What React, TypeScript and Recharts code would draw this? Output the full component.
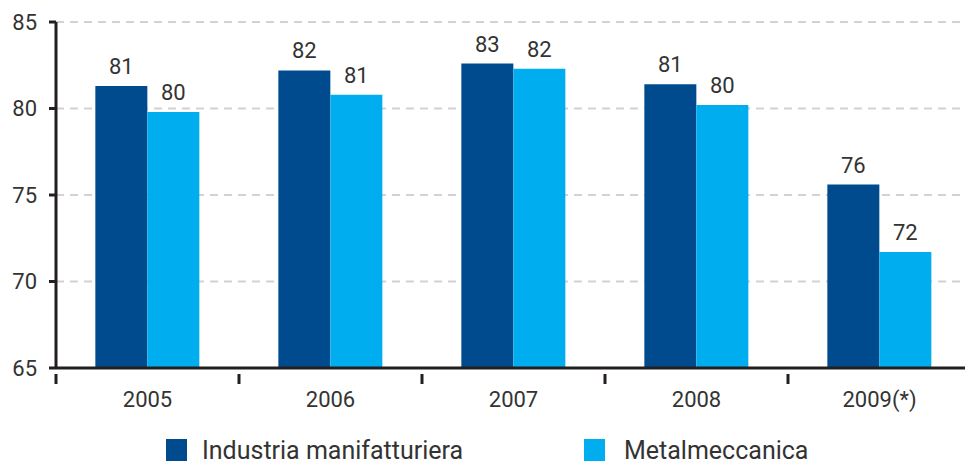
import React from "react";
import { BarChart, Bar, XAxis, YAxis, CartesianGrid, LabelList } from "recharts";

const categories = ["2005", "2006", "2007", "2008", "2009(*)"];
const industria = [81.3, 82.2, 82.6, 81.4, 75.6];
const metalmeccanica = [79.8, 80.8, 82.3, 80.2, 71.7];
const yTicks = [65, 70, 75, 80, 85];
const seriesNames = ["Industria manifatturiera", "Metalmeccanica"];

const data = categories.map((c, i) => ({ year: c, ind: industria[i], met: metalmeccanica[i] }));

const DARK = "#004B8D";
const LIGHT = "#00AEEF";
const TEXT = "#333333";
const FONT = "Roboto, 'DejaVu Sans', sans-serif";

const W = 980;
const H = 461;
const LEFT = 56;
const RIGHT = 9;
const BAND = (W - LEFT - RIGHT) / categories.length;

const XTick = (props: any) => {
  const { x, y, payload } = props;
  return (
    <g>
      <line x1={x - BAND / 2} x2={x - BAND / 2} y1={y - 2} y2={y + 8} stroke="#231f20" strokeWidth={3} />
      <text x={x} y={y + 31} textAnchor="middle" fill={TEXT} fontSize={22} fontFamily={FONT}>
        {payload.value}
      </text>
    </g>
  );
};

const fmt = (v: any) => Math.round(Number(v)).toString();

export default function App() {
  return (
    <div style={{ position: "absolute", left: 0, top: 0, width: 965, height: 461, overflow: "hidden", background: "#fff" }}>
      <BarChart
        width={W}
        height={H}
        data={data}
        margin={{ top: 22, right: RIGHT, left: 0, bottom: 0 }}
        barGap={0}
        barCategoryGap="21.5%"
      >
        <CartesianGrid vertical={false} stroke="#d2d2d2" strokeWidth={2} strokeDasharray="8 6" />
        <XAxis
          dataKey="year"
          height={93}
          axisLine={{ stroke: "#231f20", strokeWidth: 3 }}
          tickLine={false}
          tick={<XTick />}
          interval={0}
        />
        <YAxis
          width={LEFT}
          domain={[65, 85]}
          ticks={yTicks}
          allowDataOverflow
          axisLine={{ stroke: "#231f20", strokeWidth: 3 }}
          tickLine={{ stroke: "#231f20", strokeWidth: 3 }}
          tickSize={7}
          tickMargin={12}
          tick={{ fill: TEXT, fontSize: 22, fontFamily: FONT }}
        />
        <Bar dataKey="ind" fill={DARK} isAnimationActive={false}>
          <LabelList dataKey="ind" position="top" offset={12} formatter={fmt} fill={TEXT} fontSize={22} fontFamily={FONT} />
        </Bar>
        <Bar dataKey="met" fill={LIGHT} isAnimationActive={false}>
          <LabelList dataKey="met" position="top" offset={12} formatter={fmt} fill={TEXT} fontSize={22} fontFamily={FONT} />
        </Bar>
      </BarChart>
      <svg width={965} height={461} style={{ position: "absolute", left: 0, top: 0, pointerEvents: "none" }}>
        <rect x={166} y={439} width={21} height={22} fill={DARK} />
        <text x={202} y={459} fontSize={25} fontFamily={FONT} fill={TEXT}>{seriesNames[0]}</text>
        <rect x={584} y={439} width={21} height={22} fill={LIGHT} />
        <text x={624} y={459} fontSize={25} fontFamily={FONT} fill={TEXT}>{seriesNames[1]}</text>
      </svg>
    </div>
  );
}
